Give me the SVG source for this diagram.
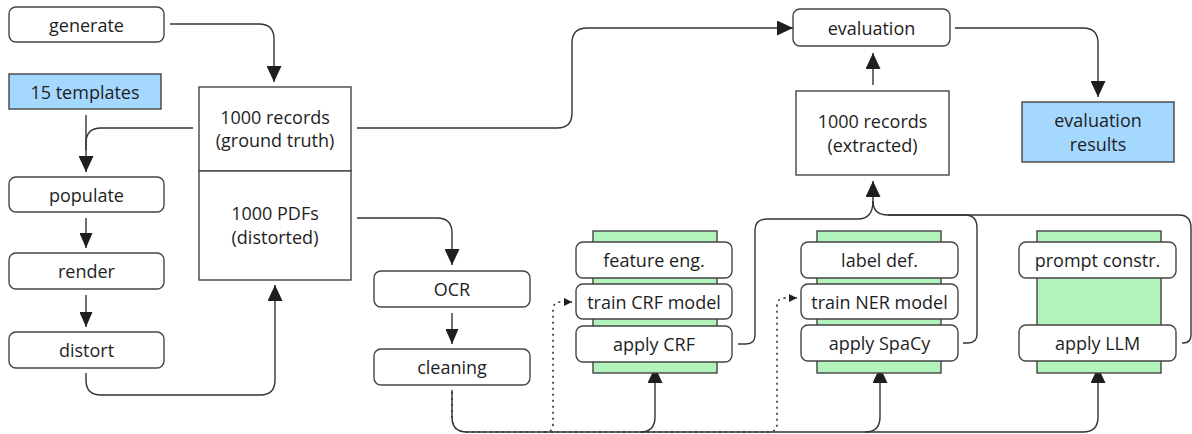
<svg xmlns="http://www.w3.org/2000/svg" width="1192" height="434" viewBox="0 0 1192 434">
<style>
  .n { fill: #ffffff; stroke: #444; stroke-width: 1.4; }
  .b { fill: #a5d8ff; stroke: #444; stroke-width: 1.4; }
  .g { fill: #b2f2bb; stroke: #444; stroke-width: 1.4; }
  text { font-family: "Open Sans", "Noto Sans", sans-serif; font-size: 18px; fill: #1e1e1e; text-anchor: middle; dominant-baseline: central; }
  .c { fill: none; stroke: #333; stroke-width: 1.4; }
  .d { fill: none; stroke: #333; stroke-width: 1.6; stroke-dasharray: 2 4; }
</style>
<defs>
  <marker id="ah" markerUnits="userSpaceOnUse" markerWidth="16" markerHeight="15" refX="16" refY="7.5" orient="auto">
    <path d="M0,0 L16,7.5 L0,15 z" fill="#1e1e1e"/>
  </marker>
  <marker id="ahs" markerUnits="userSpaceOnUse" markerWidth="15" markerHeight="13" refX="15" refY="6.5" orient="auto">
    <path d="M0,0 L15,6.5 L0,13 z" fill="#1e1e1e"/>
  </marker>
  <marker id="ad" markerUnits="userSpaceOnUse" markerWidth="8" markerHeight="8" refX="8" refY="4" orient="auto">
    <path d="M0,0 L8,4 L0,8 z" fill="#1e1e1e"/>
  </marker>
</defs>

<g id="connectors">
  <path class="c" d="M170,24 H259 Q274,24 274,39 V82" marker-end="url(#ah)"/>
  <path class="c" d="M193,128 H101 Q86,128 86,143 V172" marker-end="url(#ah)"/>
  <path class="c" d="M86,115 V150"/>
  <path class="c" d="M86,218 V248" marker-end="url(#ahs)"/>
  <path class="c" d="M86,295 V327" marker-end="url(#ahs)"/>
  <path class="c" d="M86,373 V380 Q86,395 101,395 H260 Q275,395 275,380 V285" marker-end="url(#ah)"/>
  <path class="c" d="M357,128 H557 Q572,128 572,113 V43 Q572,28 587,28 H793" marker-end="url(#ah)"/>
  <path class="c" d="M955,28 H1083 Q1098,28 1098,43 V97" marker-end="url(#ah)"/>
  <path class="c" d="M873,85 V53" marker-end="url(#ah)"/>
  <path class="c" d="M357,218 H437 Q452,218 452,233 V265" marker-end="url(#ah)"/>
  <path class="c" d="M452,313 V344" marker-end="url(#ahs)"/>
  <path class="c" d="M452,390 V417 Q452,432 467,432 H640 Q655,432 655,417 V367" marker-end="url(#ah)"/>
  <path class="c" d="M640,432 H865 Q880,432 880,417 V367" marker-end="url(#ah)"/>
  <path class="c" d="M865,432 H1083 Q1098,432 1098,417 V367" marker-end="url(#ah)"/>
  <path class="d" d="M452,392 V417 Q452,432 467,432 H545 Q553,432 553,424 V310 Q553,302 561,302 H572" marker-end="url(#ad)"/>
  <path class="d" d="M545,432 H768 Q777,432 777,424 V306 Q777,298 785,298 H797" marker-end="url(#ad)"/>
  <path class="c" d="M738,344 H746 Q755,344 755,335 V230 Q755,219 767,219 H858 Q873,219 873,201"/>
  <path class="c" d="M963,343 H968 Q977,343 977,334 V228 Q977,215 965,215 H888 Q873,215 873,201"/>
  <path class="c" d="M1182,343 H1183 Q1191,343 1191,335 V228 Q1191,215 1179,215 H888"/>
  <path class="c" d="M873,203 V181" marker-end="url(#ah)"/>
</g>

<g id="generate"><rect class="n" x="9" y="7" width="155" height="35" rx="7"/><text x="86.5" y="24.5">generate</text></g>
<g id="templates"><rect class="b" x="9" y="74" width="152" height="35"/><text x="85" y="91.5">15 templates</text></g>
<g id="records-gt"><rect class="n" x="199" y="87" width="152" height="84"/><text x="275" y="117">1000 records</text><text x="275" y="140">(ground truth)</text></g>
<g id="pdfs"><rect class="n" x="199" y="171" width="152" height="109"/><text x="275" y="213">1000 PDFs</text><text x="275" y="237">(distorted)</text></g>
<g id="populate"><rect class="n" x="9" y="177" width="155" height="35" rx="7"/><text x="86.5" y="194.5">populate</text></g>
<g id="render"><rect class="n" x="9" y="253" width="155" height="36" rx="7"/><text x="86.5" y="271">render</text></g>
<g id="distort"><rect class="n" x="9" y="332" width="155" height="36" rx="7"/><text x="86.5" y="350">distort</text></g>
<g id="ocr"><rect class="n" x="374" y="271" width="156" height="36" rx="7"/><text x="452" y="289">OCR</text></g>
<g id="cleaning"><rect class="n" x="374" y="349" width="156" height="36" rx="7"/><text x="452" y="367">cleaning</text></g>

<g id="crf">
  <rect class="g" x="593" y="231" width="124" height="142"/>
  <g id="feature-eng"><rect class="n" x="576" y="242" width="156" height="36" rx="7"/><text x="654" y="260">feature eng.</text></g>
  <g id="train-crf"><rect class="n" x="576" y="284" width="156" height="35" rx="7"/><text x="654" y="301.5">train CRF model</text></g>
  <g id="apply-crf"><rect class="n" x="576" y="326" width="156" height="36" rx="7"/><text x="654" y="344">apply CRF</text></g>
</g>
<g id="spacy">
  <rect class="g" x="817" y="231" width="124" height="142"/>
  <g id="label-def"><rect class="n" x="801" y="242" width="157" height="36" rx="7"/><text x="879.5" y="260">label def.</text></g>
  <g id="train-ner"><rect class="n" x="801" y="284" width="157" height="35" rx="7"/><text x="879.5" y="301.5">train NER model</text></g>
  <g id="apply-spacy"><rect class="n" x="801" y="325" width="157" height="36" rx="7"/><text x="879.5" y="343">apply SpaCy</text></g>
</g>
<g id="llm">
  <rect class="g" x="1037" y="231" width="124" height="142"/>
  <g id="prompt"><rect class="n" x="1019" y="242" width="157" height="36" rx="7"/><text x="1097.5" y="260">prompt constr.</text></g>
  <g id="apply-llm"><rect class="n" x="1019" y="325" width="157" height="36" rx="7"/><text x="1097.5" y="343">apply LLM</text></g>
</g>

<g id="evaluation"><rect class="n" x="793" y="9" width="157" height="37" rx="7"/><text x="871.5" y="27.5">evaluation</text></g>
<g id="records-ex"><rect class="n" x="796" y="91" width="153" height="84"/><text x="872.5" y="121">1000 records</text><text x="872.5" y="145">(extracted)</text></g>
<g id="results"><rect class="b" x="1022" y="102" width="152" height="60"/><text x="1098" y="120">evaluation</text><text x="1098" y="144">results</text></g>
</svg>
